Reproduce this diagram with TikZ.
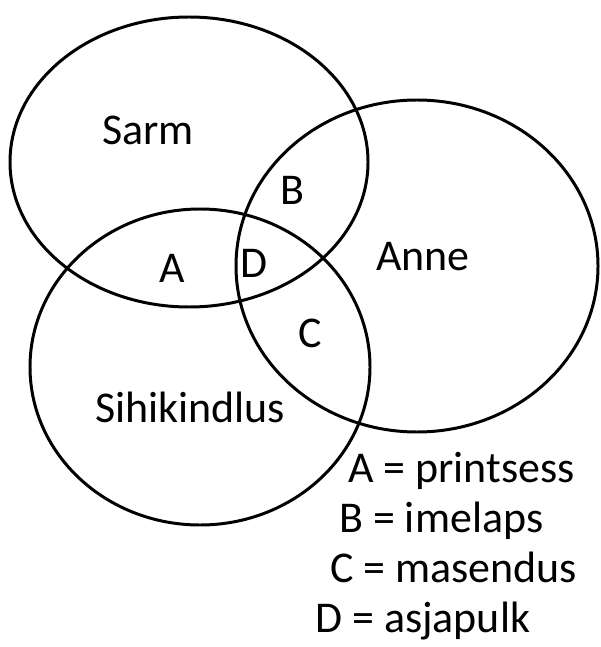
\documentclass[tikz,border=0pt]{standalone}
\usepackage{fontspec}
\setmainfont{Carlito}
\usepackage{tikz}
\usetikzlibrary{positioning}

\begin{document}
\begin{tikzpicture}[
    set/.style={line width=1.7pt, line cap=round},
    lbl/.style={font=\fontsize{25}{30}\selectfont, inner sep=0pt},
    legend/.style={lbl, anchor=base west}
]
    \useasboundingbox (0,0) rectangle (12,-12.94);

    % the three sets
    \draw[set] (3.78,-3.24) ellipse [x radius=3.58cm, y radius=2.90cm];
    \draw[set] (8.34,-5.32) ellipse [x radius=3.62cm, y radius=3.32cm];
    \draw[set] (4.00,-7.34) ellipse [x radius=3.40cm, y radius=3.16cm];

    % set names
    \node[lbl] (sarm) at (2.96,-2.60) {Sarm};
    \node[lbl] (anne) at (8.46,-5.14) {Anne};
    \node[lbl] (sihi) at (3.80,-8.14) {Sihikindlus};

    % overlaps
    \node[lbl] (reg-a) at (3.44,-5.36) {A};
    \node[lbl] (reg-b) at (5.84,-3.80) {B};
    \node[lbl] (reg-c) at (6.20,-6.66) {C};
    \node[lbl] (reg-d) at (5.08,-5.26) {D};

    % key
    \node[legend] (key-a) at (6.96,-9.64) {A = printsess};
    \node[legend] (key-b) at (6.78,-10.64) {B = imelaps};
    \node[legend] (key-c) at (6.60,-11.64) {C = masendus};
    \node[legend] (key-d) at (6.30,-12.64) {D = asjapulk};
\end{tikzpicture}
\end{document}
